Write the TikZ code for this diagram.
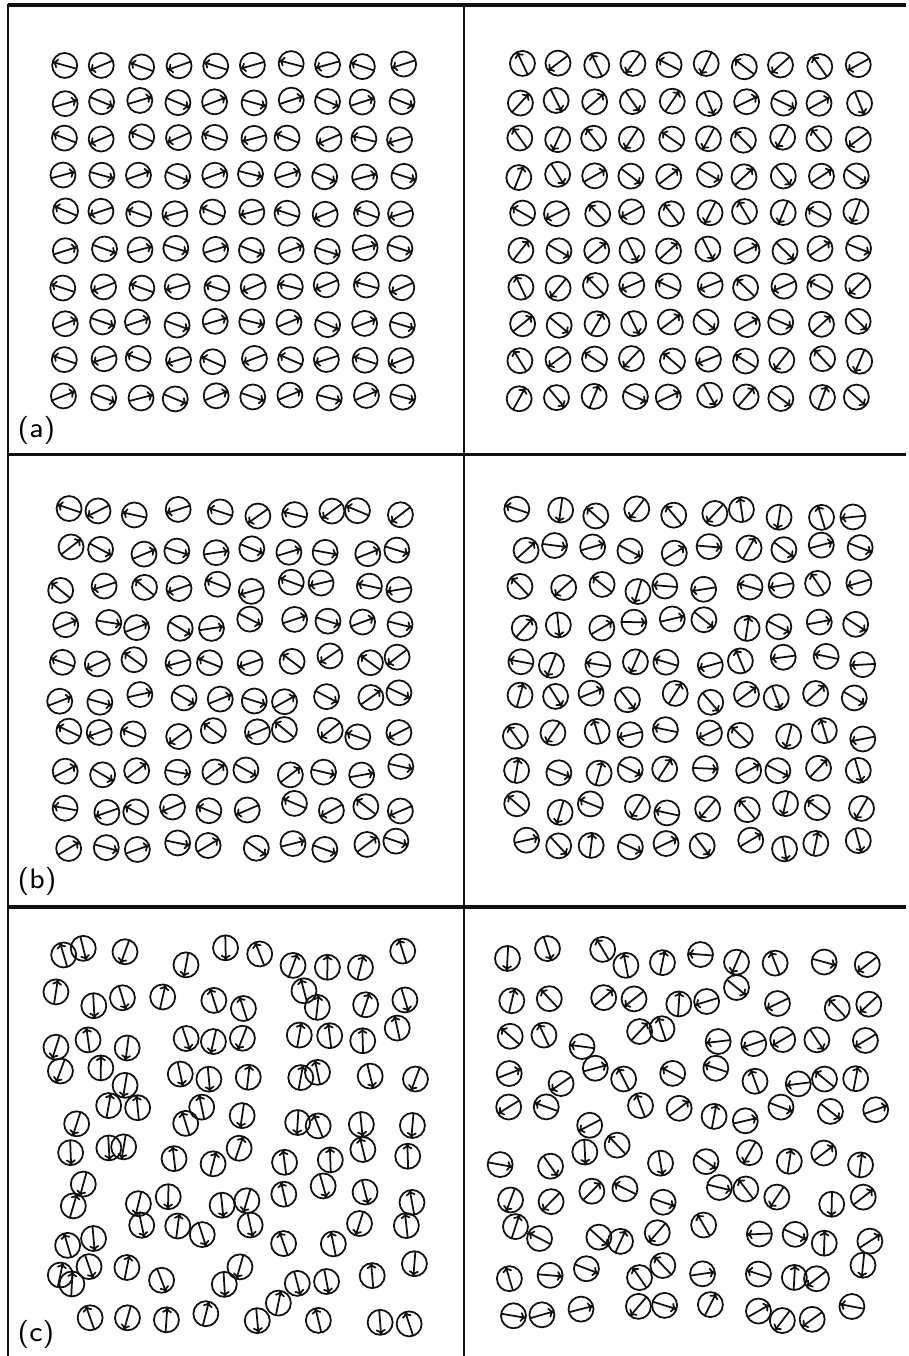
\documentclass[tikz,border=0pt]{standalone}
\usetikzlibrary{arrows.meta}
\definecolor{cInk}{HTML}{111111}

\newcommand{\rr}{1.25mm}
% one spin: ring plus needle through its centre
\newcommand{\spin}[3]{%
  \begin{scope}[shift={(#1,#2)}]
    \draw[ring] (0,0) circle (\rr);
    \draw[needle] (#3+180:\rr) -- (#3:\rr);
  \end{scope}}

\begin{document}
\begin{tikzpicture}[
  x=0.1mm, y=-0.1mm,
  ring/.style={draw=cInk, line width=0.5pt},
  needle/.style={-{To[length=1.6pt,width=2.8pt]}, draw=cInk, line width=0.5pt},
  frame/.style={draw=cInk, line width=0.5pt},
  sep/.style={draw=cInk, line width=1.1pt},
  lab/.style={font=\fontsize{8}{9.6}\selectfont\sffamily, anchor=base west, inner sep=0pt},
]
\useasboundingbox (0,0) rectangle (908,1356);

% ---- frame ----
\draw[sep] (8,5) -- (906,5);
\draw[sep] (8,454.5) -- (906,454.5);
\draw[sep] (8,907) -- (906,907);
\draw[frame] (8,4) -- (8,1356);
\draw[frame] (464,4) -- (464,1356);

% ---- (a): ordered lattice ----
\pgfmathsetseed{7}
\foreach \i in {0,...,9} \foreach \j in {0,...,9} {
  \pgfmathsetmacro\px{65+37.4*\j+2.5*rand}
  \pgfmathsetmacro\py{65+36.9*\i+2*rand}
  \pgfmathsetmacro\tl{ifthenelse(mod(\i,2)==0,1,0)}
  \pgfmathsetmacro\sg{ifthenelse(mod(\j,2)==0,1,-1)}
  \pgfmathsetmacro\ang{180*\tl+(1-2*\tl)*\sg*(14+10*rnd)}
  \spin{\px}{\py}{\ang}
}
\foreach \i in {0,...,9} \foreach \j in {0,...,9} {
  \pgfmathsetmacro\px{521+37.4*\j+2.5*rand}
  \pgfmathsetmacro\py{65+36.9*\i+2*rand}
  \pgfmathsetmacro\tl{ifthenelse(mod(\i,2)==0,1,0)}
  \pgfmathsetmacro\sg{ifthenelse(mod(\j,2)==0,1,-1)}
  \pgfmathsetmacro\ang{180*\tl+(1-2*\tl)*\sg*(20+50*rnd)}
  \spin{\px}{\py}{\ang}
}
\node[lab] (la) at (17,437) {(a)};

% ---- (b): perturbed lattice ----
\pgfmathsetseed{31}
\foreach \i in {0,...,9} \foreach \j in {0,...,9} {
  \pgfmathsetmacro\px{65+37.4*\j+7*rand}
  \pgfmathsetmacro\py{513+36.9*\i+5*rand}
  \pgfmathsetmacro\tl{ifthenelse(mod(\i,2)==0,1,0)}
  \pgfmathsetmacro\sg{ifthenelse(mod(\j,2)==0,1,-1)}
  \pgfmathsetmacro\ang{180*\tl+(1-2*\tl)*\sg*(8+32*rnd)}
  \spin{\px}{\py}{\ang}
}
\foreach \i in {0,...,9} \foreach \j in {0,...,9} {
  \pgfmathsetmacro\px{521+37.4*\j+7*rand}
  \pgfmathsetmacro\py{513+36.9*\i+5*rand}
  \pgfmathsetmacro\tl{ifthenelse(mod(\i,2)==0,1,0)}
  \pgfmathsetmacro\sg{ifthenelse(mod(\j,2)==0,1,-1)}
  \pgfmathsetmacro\ang{180*\tl+(1-2*\tl)*\sg*(85*rnd)}
  \spin{\px}{\py}{\ang}
}
\node[lab] (lb) at (17,888) {(b)};

% ---- (c): disordered ----
\pgfmathsetseed{53}
\foreach \i in {0,...,9} \foreach \j in {0,...,9} {
  \pgfmathsetmacro\px{57+39*\j+13*rand+ifthenelse(\j==0,8,0)}
  \pgfmathsetmacro\py{958+39.5*\i+11*rand-ifthenelse(\i==9,ifthenelse(\j==0,28,0),0)}
  \pgfmathsetmacro\ang{ifthenelse(rnd<0.5,90,270)+22*rand}
  \spin{\px}{\py}{\ang}
}
\foreach \i in {0,...,9} \foreach \j in {0,...,9} {
  \pgfmathsetmacro\px{513+39*\j+13*rand}
  \pgfmathsetmacro\py{958+39.5*\i+11*rand}
  \pgfmathsetmacro\ang{360*rnd}
  \spin{\px}{\py}{\ang}
}
\node[lab] (lc) at (17,1341) {(c)};

\end{tikzpicture}
\end{document}
